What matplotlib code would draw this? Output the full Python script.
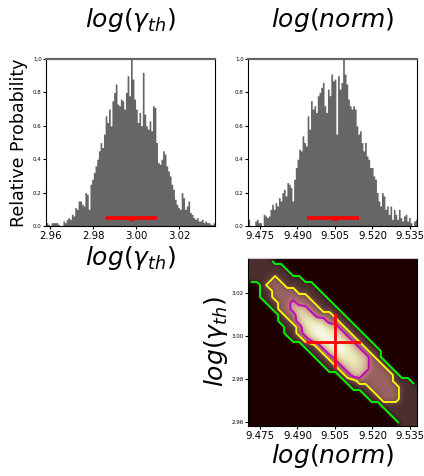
import numpy as np
import matplotlib
matplotlib.use("Agg")
import matplotlib.pyplot as plt
from matplotlib.colors import PowerNorm

# axis ranges of the two parameters
gamma_lo, gamma_hi = 2.958, 3.0366
norm_lo, norm_hi = 9.4702, 9.5378

gamma_ticks = [2.96, 2.98, 3.00, 3.02]
norm_ticks = [9.475, 9.490, 9.505, 9.520, 9.535]

# relative probability per bin (100 bins across the axis range)
gamma_hist = [
    0.02, 0.01, 0.00, 0.02, 0.02, 0.02, 0.02, 0.01, 0.00, 0.00,
    0.03, 0.02, 0.04, 0.05, 0.04, 0.07, 0.06, 0.11, 0.10, 0.15,
    0.15, 0.13, 0.12, 0.20, 0.19, 0.10, 0.25, 0.28, 0.32, 0.36,
    0.40, 0.45, 0.50, 0.47, 0.55, 0.66, 0.62, 0.70, 0.60, 0.75,
    0.80, 0.85, 0.73, 0.72, 0.76, 0.75, 0.70, 0.80, 0.90, 0.78,
    1.00, 0.88, 0.76, 0.70, 0.62, 0.68, 0.60, 0.92, 0.67, 0.60,
    0.58, 0.63, 0.57, 0.72, 0.71, 0.50, 0.38, 0.37, 0.40, 0.45,
    0.43, 0.36, 0.33, 0.30, 0.25, 0.22, 0.16, 0.13, 0.11, 0.10,
    0.20, 0.17, 0.10, 0.12, 0.15, 0.08, 0.07, 0.05, 0.04, 0.05,
    0.03, 0.03, 0.04, 0.02, 0.03, 0.02, 0.02, 0.01, 0.01, 0.02,
]
norm_hist = [
    0.04, 0.00, 0.00, 0.00, 0.03, 0.04, 0.02, 0.02, 0.00, 0.07,
    0.06, 0.05, 0.06, 0.10, 0.13, 0.10, 0.14, 0.12, 0.17, 0.15,
    0.20, 0.22, 0.18, 0.26, 0.25, 0.23, 0.15, 0.28, 0.35, 0.40,
    0.46, 0.45, 0.54, 0.50, 0.48, 0.66, 0.58, 0.75, 0.70, 0.72,
    0.68, 0.78, 0.80, 0.83, 0.86, 0.72, 0.68, 0.82, 0.78, 0.91,
    0.87, 0.88, 0.55, 0.90, 0.82, 0.86, 1.00, 0.91, 0.85, 0.76,
    0.72, 0.70, 0.72, 0.70, 0.60, 0.55, 0.57, 0.50, 0.45, 0.50,
    0.42, 0.40, 0.35, 0.35, 0.30, 0.28, 0.20, 0.15, 0.12, 0.20,
    0.18, 0.10, 0.12, 0.07, 0.12, 0.04, 0.10, 0.07, 0.04, 0.10,
    0.05, 0.03, 0.06, 0.07, 0.03, 0.05, 0.02, 0.00, 0.03, 0.04,
]

# lower, median, upper
gamma_stats = (2.9858, 2.9974, 3.0098)
norm_stats = (9.4939, 9.5052, 9.5148)

# joint density on a 28 x 28 grid (top row = highest log(gamma_th))
density_rows = [
    "1111000000000000000000000000",
    "1111110000000000000000000000",
    "1111111000000000000000000000",
    "1111311110000000000000000000",
    "0013331111100000000000000000",
    "0011333311110000000000000000",
    "0011333333111000000000000000",
    "0001133633311100000000000000",
    "0000133676331110000000000000",
    "0000013377633311000000000000",
    "0000011368876331100000000000",
    "0000001137898763110000000000",
    "0000001136899876311000000000",
    "0000000113689997631100000000",
    "0000000001137899863110000000",
    "0000000000113789876311000000",
    "0000000000011368887631000000",
    "0000000000001136787633100000",
    "0000000000000113677633310000",
    "0000000000000001366333331000",
    "0000000000000000113333331110",
    "0000000000000000011133333111",
    "0000000000000000000113333111",
    "0000000000000000000011333111",
    "0000000000000000000000111111",
    "0000000000000000000000011111",
    "0000000000000000000000001111",
    "0000000000000000000000000111",
]
contour_levels = [0.5, 2, 4.5]
contour_colors = ["lime", "yellow", "m"]

W, H = 424, 476
fig = plt.figure(figsize=(W / 100, H / 100), dpi=100)


def px_axes(left, top, w, h):
    return fig.add_axes([left / W, 1 - (top + h) / H, w / W, h / H])


def draw_hist(ax, heights, lo, hi, stats, ticks, fmt):
    edges = np.linspace(lo, hi, len(heights) + 1)
    steps = np.append(heights, heights[-1])
    ax.fill_between(edges, steps, step="post", color="#666666",
                    linewidth=0, snap=False)
    ax.plot([stats[0], stats[2]], [0.05, 0.05], color="red", lw=2.6,
            solid_capstyle="butt")
    ax.plot(stats[1], 0.05, "s", color="red", ms=3.5)
    ax.set_xlim(lo, hi)
    ax.set_ylim(0, 1)
    ax.set_xticks(ticks)
    ax.set_xticklabels([fmt % t for t in ticks])
    ax.set_yticks([0, 0.2, 0.4, 0.6, 0.8, 1.0])
    ax.tick_params(axis="y", labelsize=4, length=2, pad=1)
    ax.tick_params(axis="x", labelsize=7.3, length=2.5, pad=1)
    ax.spines["top"].set_color("#666666")
    ax.spines["top"].set_linewidth(1.6)


ax1 = px_axes(46, 59, 169, 167)
ax2 = px_axes(248, 59, 169, 167)
ax3 = px_axes(248, 258, 169, 168)

draw_hist(ax1, gamma_hist, gamma_lo, gamma_hi, gamma_stats, gamma_ticks, "%.2f")
draw_hist(ax2, norm_hist, norm_lo, norm_hi, norm_stats, norm_ticks, "%.3f")

ax1.set_title(r"$log(\gamma_{th})$", fontsize=18, pad=23)
ax2.set_title(r"$log(norm)$", fontsize=18, pad=23)
ax1.set_xlabel(r"$log(\gamma_{th})$", fontsize=18, labelpad=2)
ax1.set_ylabel("Relative Probability", fontsize=12.5, labelpad=4)

# joint distribution
Z = np.array([[int(c) for c in row] for row in density_rows], dtype=float)
ny, nx = Z.shape
dx = (norm_hi - norm_lo) / nx
dy = (gamma_hi - gamma_lo) / ny
xc = norm_lo + dx * (np.arange(nx) + 0.5)
yc = gamma_hi - dy * (np.arange(ny) + 0.5)

ax3.imshow(Z, extent=(norm_lo, norm_hi, gamma_lo, gamma_hi), origin="upper",
           aspect="auto", cmap="pink", norm=PowerNorm(1.3, vmin=0, vmax=9.5),
           interpolation="bicubic")
ax3.contour(xc, yc, Z, levels=contour_levels, colors=contour_colors,
            linewidths=1.3)
ax3.plot([norm_stats[0], norm_stats[2]], [gamma_stats[1]] * 2, color="red", lw=2)
ax3.plot([norm_stats[1]] * 2, [gamma_stats[0], gamma_stats[2]], color="red", lw=2)
ax3.set_xlim(norm_lo, norm_hi)
ax3.set_ylim(gamma_lo, gamma_hi)
ax3.set_xticks(norm_ticks)
ax3.set_xticklabels(["%.3f" % t for t in norm_ticks])
ax3.set_yticks(gamma_ticks)
ax3.set_yticklabels(["%.2f" % t for t in gamma_ticks])
ax3.tick_params(axis="y", labelsize=4, length=2, pad=1)
ax3.tick_params(axis="x", labelsize=7.3, length=2.5, pad=1)
ax3.spines["top"].set_color("#cccccc")
ax3.set_xlabel(r"$log(norm)$", fontsize=18, labelpad=1)
ax3.set_ylabel(r"$log(\gamma_{th})$", fontsize=18, labelpad=1)

fig.savefig("out.png", dpi=100)
